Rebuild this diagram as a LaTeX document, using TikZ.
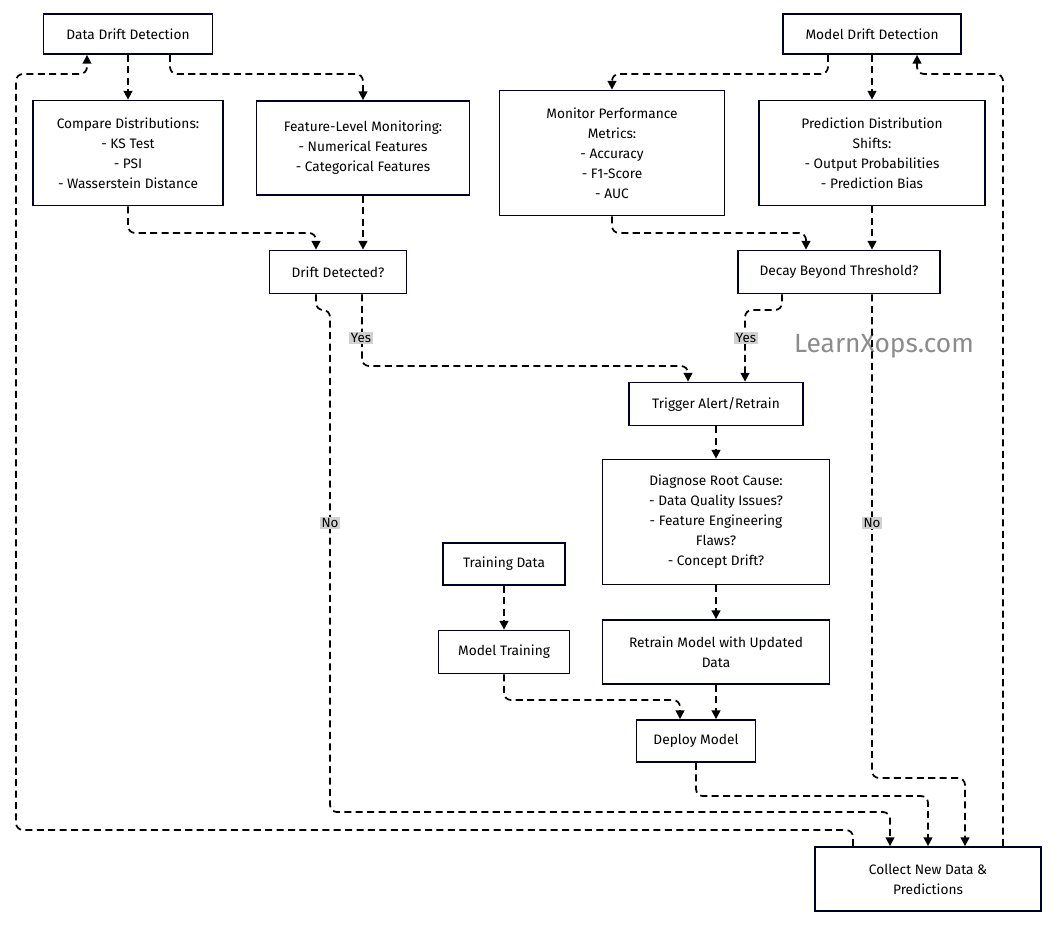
\documentclass[tikz,border=0pt]{standalone}
\usepackage{fontspec}
\setmainfont{Fira Sans}
\usepackage{tikz}
\usetikzlibrary{arrows.meta,calc}

\tikzset{
  box/.style={draw=black!85!blue, line width=1pt, fill=white, align=center, inner sep=0pt,
    font=\fontsize{7.8}{11.4}\selectfont},
  flow/.style={line width=1pt, dashed, dash pattern=on 4pt off 2.5pt, rounded corners=4pt, -{Triangle[length=5pt,width=5pt]}},
  lbl/.style={fill=black!18, inner sep=1pt, font=\fontsize{7.6}{9}\selectfont}
}

\begin{document}
\begin{tikzpicture}[x=0.02cm, y=-0.02cm]
    %%Background
    \useasboundingbox (0,0) rectangle (1060,930);
    %%Nodes
    \node[box, minimum width=169*0.02cm, minimum height=40*0.02cm] (dd) at (128,34) {Data Drift Detection};
    \node[box, minimum width=178*0.02cm, minimum height=40*0.02cm] (md) at (872,34) {Model Drift Detection};
    \node[box, minimum width=190*0.02cm, minimum height=105*0.02cm] (cmp) at (128,153) {Compare Distributions:\\- KS Test\\- PSI\\- Wasserstein Distance};
    \node[box, minimum width=213*0.02cm, minimum height=94*0.02cm] (feat) at (363,148) {Feature-Level Monitoring:\\- Numerical Features\\- Categorical Features};
    \node[box, minimum width=225*0.02cm, minimum height=125*0.02cm] (perf) at (612,153) {Monitor Performance\\Metrics:\\- Accuracy\\- F1-Score\\- AUC};
    \node[box, minimum width=226*0.02cm, minimum height=105*0.02cm] (pred) at (872,153) {Prediction Distribution\\Shifts:\\- Output Probabilities\\- Prediction Bias};
    \node[box, minimum width=137*0.02cm, minimum height=43*0.02cm] (drift) at (338,272) {Drift Detected?};
    \node[box, minimum width=202*0.02cm, minimum height=43*0.02cm] (decay) at (839,272) {Decay Beyond Threshold?};
    \node[box, minimum width=174*0.02cm, minimum height=43*0.02cm] (trig) at (716,404) {Trigger Alert/Retrain};
    \node[box, minimum width=227*0.02cm, minimum height=125*0.02cm] (diag) at (716,522) {Diagnose Root Cause:\\- Data Quality Issues?\\- Feature Engineering\\Flaws?\\- Concept Drift?};
    \node[box, minimum width=122*0.02cm, minimum height=42*0.02cm] (tdata) at (504,564) {Training Data};
    \node[box, minimum width=131*0.02cm, minimum height=43*0.02cm] (mtrain) at (504,652) {Model Training};
    \node[box, minimum width=227*0.02cm, minimum height=64*0.02cm] (retr) at (716,652) {Retrain Model with Updated\\Data};
    \node[box, minimum width=119*0.02cm, minimum height=42*0.02cm] (dep) at (696,741) {Deploy Model};
    \node[box, minimum width=226*0.02cm, minimum height=64*0.02cm] (coll) at (928,879) {Collect New Data \&\\Predictions};
    \node[text=black!45, font=\fontsize{15}{18}\selectfont] (wm) at (884,346) {LearnXops.com};

    %%Connectors
    \draw[flow] (dd.south) -- (cmp.north);
    \draw[flow] (dd.south -| 170,0) |- (363,74) -- (feat.north);
    \draw[flow] (md.south -| 828,0) |- (612,74) -- (perf.north);
    \draw[flow] (md.south) -- (pred.north);
    \draw[flow] (cmp.south) |- (316,233) -- (drift.north -| 316,0);
    \draw[flow] (feat.south) -- (drift.north -| 363,0);
    \draw[flow] (perf.south) |- (806,233) -- (decay.north -| 806,0);
    \draw[flow] (pred.south) -- (decay.north -| 872,0);
    \draw[flow] (drift.south -| 362,0) |- (688,366) -- (trig.north -| 688,0);
    \node[lbl] at (361,338) {Yes};
    \draw[flow] (decay.south -| 782,0) |- (745,310) -- (trig.north -| 745,0);
    \node[lbl] at (746,338) {Yes};
    \draw[flow] (drift.south -| 316,0) |- (330,310) |- (890,812) -- (coll.north -| 890,0);
    \node[lbl] at (330,523) {No};
    \draw[flow] (decay.south -| 872,0) |- (965,778) -- (coll.north -| 965,0);
    \node[lbl] at (872,523) {No};
    \draw[flow] (trig) -- (diag);
    \draw[flow] (diag) -- (retr);
    \draw[flow] (tdata) -- (mtrain);
    \draw[flow] (mtrain.south) |- (680,700) -- (dep.north -| 680,0);
    \draw[flow] (retr.south) -- (dep.north -| 716,0);
    \draw[flow] (dep.south) |- (928,796) -- (coll.north);
    \draw[flow] (coll.north -| 1003,0) |- (917,74) -- (md.south -| 917,0);
    \draw[flow] (coll.north -| 853,0) |- (16,830) |- (87,74) -- (dd.south -| 87,0);
\end{tikzpicture}
\end{document}
